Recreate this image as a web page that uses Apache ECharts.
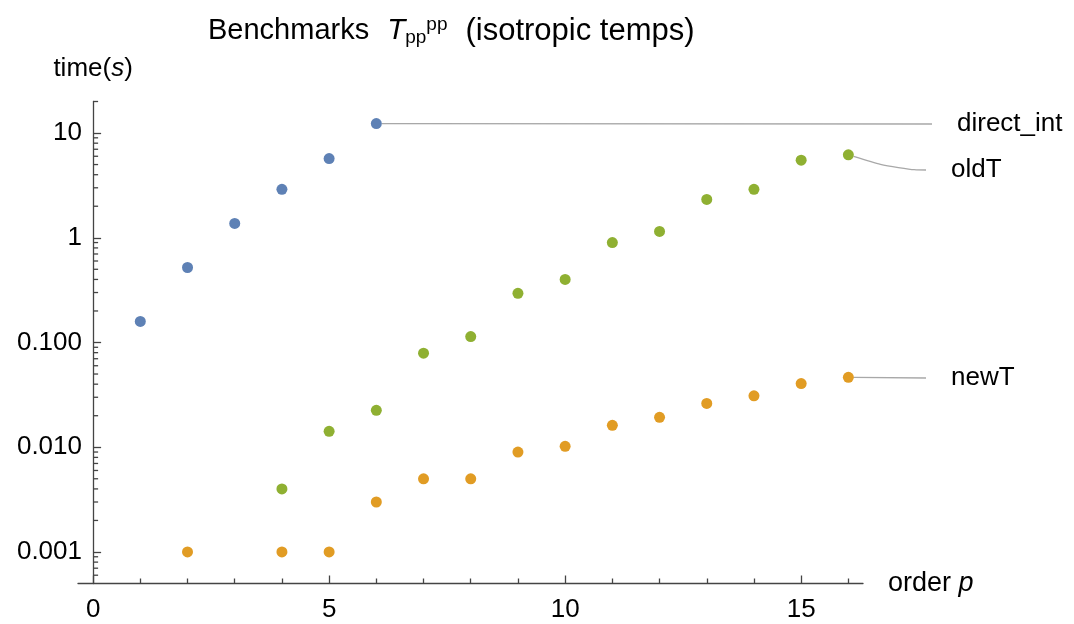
<!DOCTYPE html>
<html>
<head>
<meta charset="utf-8">
<script src="https://cdn.jsdelivr.net/npm/echarts@6/dist/echarts.min.js"></script>
<style>html,body{margin:0;padding:0;background:#fff}#c{width:1074px;height:624px}</style>
</head>
<body>
<div id="c"></div>
<script>
// ---- data ----
const directP = [1, 2, 3, 4, 5, 6];
const directT = [0.159, 0.52, 1.37, 2.9, 5.7, 12.3];
const oldP = [4, 5, 6, 7, 8, 9, 10, 11, 12, 13, 14, 15, 16];
const oldT = [0.004, 0.0142, 0.0225, 0.079, 0.114, 0.295, 0.4, 0.9, 1.15, 2.32, 2.9, 5.5, 6.2];
const newP = [2, 4, 5, 6, 7, 8, 9, 10, 11, 12, 13, 14, 15, 16];
const newT = [0.001, 0.001, 0.001, 0.003, 0.005, 0.005, 0.009, 0.0102, 0.0162, 0.0193, 0.0262, 0.031, 0.0405, 0.0465];
const seriesNames = ['direct_int', 'oldT', 'newT'];
const xTickValues = [0, 5, 10, 15];
const xTickLabels = ['0', '5', '10', '15'];
const yTickValues = [0.001, 0.01, 0.1, 1, 10];
const yTickLabels = ['0.001', '0.010', '0.100', '1', '10'];

const xMinor = [];
for (let i = 1; i <= 16; i++) if (i % 5 !== 0) xMinor.push(i);
// minor log ticks (2..9 x 10^k)
const yMinor = [];
for (let k = -4; k <= 1; k++) for (let m = 2; m <= 9; m++) {
  const v = +(m * Math.pow(10, k)).toPrecision(3);
  if (v > 0.00052 && v <= 20.001) yMinor.push(v);
}

const Y_MIN = 0.0005, Y_MAX = 20;
const FONT = '"Liberation Sans", Arial, Helvetica, sans-serif';
const AX = '#444';
const colors = ['#5E81B5', '#E19C24', '#8FB032'];

function mk(ps, vs) {
  return ps.map((p, i) => [p, vs[i]]);
}
const labelPos = {
  'direct_int': [932, 124],
  'oldT': [926, 170],
  'newT': [926, 378]
};
function scatter(name, ps, vs, color, smooth) {
  const data = mk(ps, vs).map((d, i, arr) => i === arr.length - 1 ? {
    value: d,
    label: {show: true}
  } : d);
  return {
    type: 'scatter', name, data, symbolSize: 11,
    itemStyle: {color, opacity: 1},
    xAxisIndex: 0, yAxisIndex: 0,
    label: {
      show: false, formatter: '{g|}{t|' + name + '}',
      rich: {
        g: {width: 25, height: 10},
        t: {color: '#000', fontFamily: FONT, fontSize: 26, fontWeight: 'normal'}
      }
    },
    labelLine: {show: true, smooth: smooth ? 0.6 : false, length2: smooth ? 28 : 0,
      lineStyle: {color: '#a8a8a8', width: 1.3, opacity: 1}},
    labelLayout: function () {
      return {x: labelPos[name][0], y: labelPos[name][1], align: 'left', verticalAlign: 'middle'};
    },
    emphasis: {disabled: true}
  };
}

const chart = echarts.init(document.getElementById('c'), null, {renderer: 'canvas'});
const baseX = {
  type: 'value', min: -0.32, max: 16.31, position: 'bottom',
  splitLine: {show: false}
};
const rn = (sz, it) => ({fontFamily: FONT, fontSize: sz, color: '#000', fontWeight: 'normal', fontStyle: it ? 'italic' : 'normal'});
chart.setOption({
  animation: false,
  backgroundColor: '#fff',
  title: {
    left: 203, top: 6,
    text: '{n|Benchmarks}{i|T}{sub|pp}{sup|pp}{p|(isotropic temps)}',
    textStyle: {
      fontWeight: 'normal', fontFamily: FONT,
      rich: {
        n: Object.assign(rn(29, false), {lineHeight: 40}),
        i: Object.assign(rn(29.5, true), {lineHeight: 40, padding: [0, 0, 0, 18]}),
        sub: Object.assign(rn(19, false), {padding: [14, 0, 0, 0], lineHeight: 40}),
        sup: Object.assign(rn(19, false), {padding: [0, 0, 12, 0], lineHeight: 40}),
        p: Object.assign(rn(31, false), {lineHeight: 40, padding: [0, 0, 0, 18]})
      }
    }
  },
  grid: {left: 78, right: 211, top: 101.5, bottom: 40.5, containLabel: false, outerBoundsMode: 'none'},
  xAxis: [
    Object.assign({}, baseX, {
      name: '{n|order }{i|p}', nameLocation: 'end', nameGap: 25,
      nameTextStyle: {rich: {n: rn(27, false), i: rn(27, true)}},
      axisLine: {show: true, onZero: false, lineStyle: {color: AX, width: 1.3}},
      axisTick: {show: true, inside: true, length: 8, customValues: xTickValues, lineStyle: {color: AX, width: 1.3}},
      axisLabel: {show: true, customValues: xTickValues, margin: 13, color: '#000', fontFamily: FONT, fontSize: 26,
        formatter: v => xTickLabels[xTickValues.indexOf(v)] || ''}
    }),
    Object.assign({}, baseX, {
      axisLine: {show: true, onZero: false, lineStyle: {color: 'rgba(0,0,0,0)'}},
      axisTick: {show: true, inside: true, length: 5, customValues: xMinor, lineStyle: {color: AX, width: 1.3, opacity: 1}},
      axisLabel: {show: false}
    })
  ],
  yAxis: [
    {
      type: 'log', logBase: 10, min: Y_MIN, max: Y_MAX, position: 'left',
      splitLine: {show: false}, minorTick: {show: false}, minorSplitLine: {show: false},
      name: '{n|time(}{i|s}{n|)}', nameLocation: 'end', nameGap: 20,
      nameTextStyle: {rich: {n: rn(26, false), i: rn(26, true)}},
      axisLine: {show: true, onZero: true, lineStyle: {color: AX, width: 1.3}},
      axisTick: {show: true, inside: true, length: 8, customValues: yTickValues, lineStyle: {color: AX, width: 1.3}},
      axisLabel: {show: true, customValues: yTickValues, margin: -4, color: '#000', fontFamily: FONT, fontSize: 26,
        formatter: v => {
          const i = yTickValues.findIndex(t => Math.abs(Math.log10(t) - Math.log10(v)) < 1e-6);
          return i >= 0 ? yTickLabels[i] : '';
        }}
    }
  ],
  series: [
    {
      // minor ticks of the log y axis, placed through the axis scale
      type: 'custom', xAxisIndex: 0, yAxisIndex: 0, silent: true, clip: false, z: 1,
      data: yMinor.map(v => [0, v]),
      encode: {x: 0, y: 1},
      renderItem: function (params, api) {
        const p = api.coord([0, api.value(1)]);
        return {
          type: 'line',
          shape: {x1: p[0], y1: p[1], x2: p[0] + 5, y2: p[1]},
          style: {stroke: AX, lineWidth: 1.3}
        };
      }
    },
    scatter(seriesNames[0], directP, directT, colors[0], false),
    scatter(seriesNames[1], oldP, oldT, colors[2], true),
    scatter(seriesNames[2], newP, newT, colors[1], false)
  ]
});
</script>
</body>
</html>
